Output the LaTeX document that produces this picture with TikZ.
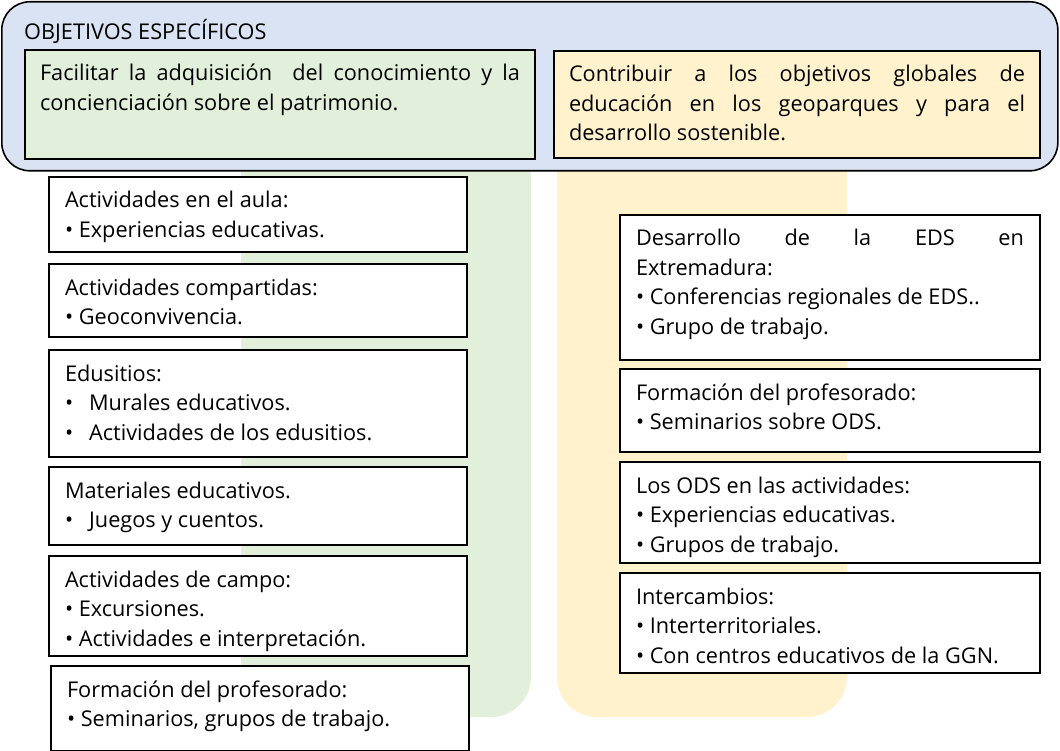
\documentclass[tikz,border=0pt]{standalone}
\usepackage{fontspec}
\setmainfont{Open Sans}
\usetikzlibrary{positioning}

\definecolor{azul}{HTML}{DAE3F3}
\definecolor{verde}{HTML}{E2EFDA}
\definecolor{amarillo}{HTML}{FFF2CC}

% text block of a box: width, height, text
\newcommand{\caja}[3][386pt]{\parbox[c][#2][t]{#1}{\rule{0pt}{31pt}#3}}
\newcommand{\punto}{\textbullet\ }

\tikzset{
  outerbox/.style={draw, line width=1.6pt, fill=azul, rounded corners=28pt, anchor=north west, inner sep=0pt},
  goalbox/.style={draw, line width=2pt, anchor=north west, inner xsep=15pt, inner ysep=0pt},
  actbox/.style={draw, line width=2pt, fill=white, anchor=north west, inner xsep=16pt, inner ysep=0pt},
}

\begin{document}
\begin{tikzpicture}[x=1pt, y=-1pt, font=\fontsize{21.7}{29.5}\selectfont]
    \useasboundingbox (0,0) rectangle (1060,751);

    % coloured columns behind the boxes
    \foreach \x/\c in {241/verde, 557/amarillo} {
        \fill[\c] (\x,160) [rounded corners=40pt] -- (\x,717) -- (\x+290,717) [sharp corners] -- (\x+290,160) -- cycle;
    }

    % specific objectives
    \node[outerbox, minimum width=1056pt, minimum height=169pt] (objetivos) at (1,1) {};
    \node[anchor=base west, inner sep=0pt] (titulo) at (24,40) {OBJETIVOS ESPECÍFICOS};

    \node[goalbox, fill=verde] (conocimiento) at (24,49)
        {\caja[480pt]{109pt}{Facilitar la adquisición\ \ del conocimiento y la\linebreak concienciación sobre el patrimonio.}};
    \node[goalbox, fill=amarillo] (sostenible) at (553,50)
        {\caja[456pt]{107pt}{Contribuir a los objetivos globales de\linebreak educación en los geoparques y para el\linebreak desarrollo sostenible.}};

    % left column
    \node[actbox] (aula) at (48,176)
        {\caja{75pt}{Actividades en el aula:\\\punto Experiencias educativas.}};
    \node[actbox] (compartidas) at (48,263)
        {\caja{73pt}{Actividades compartidas:\\\punto Geoconvivencia.}};
    \node[actbox] (edusitios) at (48,349)
        {\caja{107pt}{Edusitios:\\\textbullet\hspace{16pt}Murales educativos.\\\textbullet\hspace{16pt}Actividades de los edusitios.}};
    \node[actbox] (materiales) at (48,466)
        {\caja{78pt}{Materiales educativos.\\\textbullet\hspace{16pt}Juegos y cuentos.}};
    \node[actbox] (campo) at (48,555)
        {\caja{100pt}{Actividades de campo:\\\punto Excursiones.\\\punto Actividades e interpretación.}};
    \node[actbox] (formacion) at (50,665)
        {\caja{85pt}{Formación del profesorado:\\\punto Seminarios, grupos de trabajo.}};

    % right column
    \node[actbox] (desarrollo) at (619,214)
        {\caja[388pt]{145pt}{Desarrollo\hfill de\hfill la\hfill EDS\hfill en\\Extremadura:\\\punto Conferencias regionales de EDS..\\\punto Grupo de trabajo.}};
    \node[actbox] (profesorado) at (619,368)
        {\caja[388pt]{83pt}{Formación del profesorado:\\\punto Seminarios sobre ODS.}};
    \node[actbox] (ods) at (619,461)
        {\caja[388pt]{101pt}{Los ODS en las actividades:\\\punto Experiencias educativas.\\\punto Grupos de trabajo.}};
    \node[actbox] (intercambios) at (619,572)
        {\caja[388pt]{100pt}{Intercambios:\\\punto Interterritoriales.\\\punto Con centros educativos de la GGN.}};
\end{tikzpicture}
\end{document}
